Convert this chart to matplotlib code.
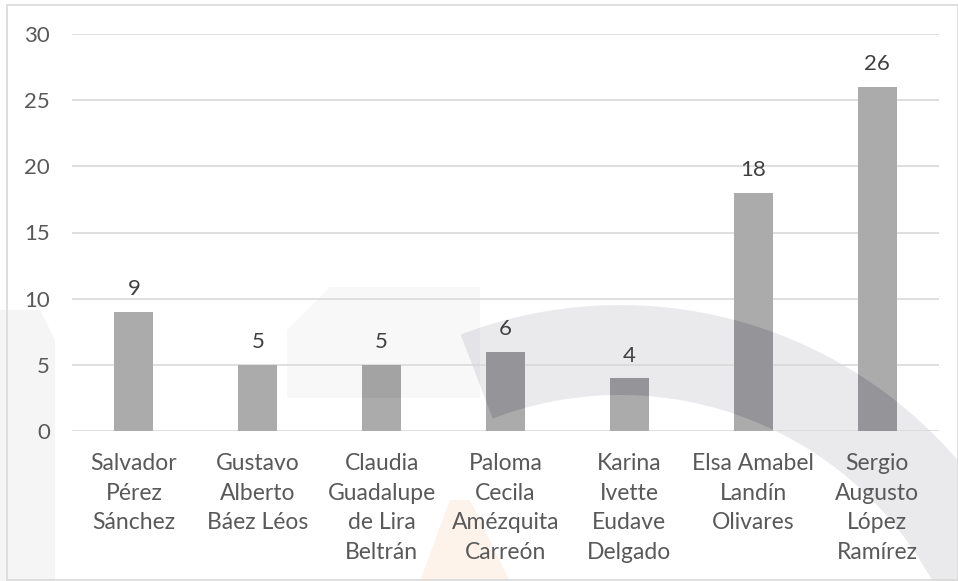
import numpy as np
import matplotlib
matplotlib.use("Agg")
import matplotlib.pyplot as plt
from matplotlib.patches import Polygon, Wedge, Rectangle
from matplotlib.transforms import IdentityTransform

plt.rcParams['font.family'] = ['Lato', 'DejaVu Sans']

# data
nombres = [
    "Salvador\nPérez\nSánchez",
    "Gustavo\nAlberto\nBáez Léos",
    "Claudia\nGuadalupe\nde Lira\nBeltrán",
    "Paloma\nCecila\nAmézquita\nCarreón",
    "Karina\nIvette\nEudave\nDelgado",
    "Elsa Amabel\nLandín\nOlivares",
    "Sergio\nAugusto\nLópez\nRamírez",
]
valores = [9, 5, 5, 6, 4, 18, 26]
yticks = [0, 5, 10, 15, 20, 25, 30]

W, H = 958, 581
texto = '#595959'
rejilla = '#D9D9D9'
barra = '#ABABAB'

fig = plt.figure(figsize=(W / 100, H / 100), dpi=100)
ax = fig.add_axes([72 / W, 1 - 431 / H, (939 - 72) / W, (431 - 34) / H])
ax.set_facecolor('none')

x = np.arange(len(valores))
bars = ax.bar(x, valores, width=0.315, color=barra, zorder=2)

for xi, v in zip(x, valores):
    ax.annotate(str(v), (xi, v), xytext=(0, 9), textcoords='offset points',
                ha='center', va='bottom', fontsize=16, color='#404040', zorder=4)

ax.set_xlim(-0.5, len(valores) - 0.5)
ax.set_ylim(0, 30)
ax.set_yticks(yticks)
ax.set_xticks(x)
ax.set_xticklabels(nombres, linespacing=1.5, fontsize=16.5)
ax.tick_params(axis='both', length=0, labelsize=16, colors=texto)
ax.tick_params(axis='x', labelsize=16.5, pad=16)
ax.tick_params(axis='y', pad=16)
ax.grid(axis='y', color=rejilla, linewidth=1.2, zorder=0)
for s in ax.spines.values():
    s.set_visible(False)

# faint background shapes printed behind the chart (pixel coords, origin bottom-left)
idt = IdentityTransform()


def px(pts):
    return [(a, H - b) for a, b in pts]


def arco():
    return Wedge((620, H - 750), 445, -15, 111, width=90, transform=idt)


def bloque():
    return Polygon(px([(287, 330), (330, 287), (480, 287), (480, 398), (287, 398)]),
                   transform=idt)


fondo = [
    (arco(), '#9A9AA8', 0.2),
    (bloque(), '#A0A0A8', 0.07),
    (Polygon(px([(0, 310), (40, 310), (55, 340), (55, 581), (0, 581)]),
             transform=idt), '#A0A0A8', 0.1),
    (Polygon(px([(420, 581), (450, 500), (470, 500), (510, 581)]),
             transform=idt), '#F6C9A0', 0.22),
]
for p, c, a in fondo:
    p.set(facecolor=c, alpha=a, edgecolor='none', zorder=1.5, clip_on=False)
    ax.add_artist(p)

# the same shapes look darker where they fall on the bars
for b in bars:
    for forma, a in ((arco, 0.35), (bloque, 0.12)):
        p = forma()
        p.set(facecolor='#6E6E78', alpha=a, edgecolor='none', zorder=2.5)
        ax.add_artist(p)
        p.set_clip_path(b)

# chart border
fig.patches.append(Rectangle((7 / W, 1 / H), (W - 7) / W, (H - 6) / H,
                             transform=fig.transFigure, fill=False,
                             edgecolor=rejilla, linewidth=1.2))

fig.savefig('out.png', dpi=100)
